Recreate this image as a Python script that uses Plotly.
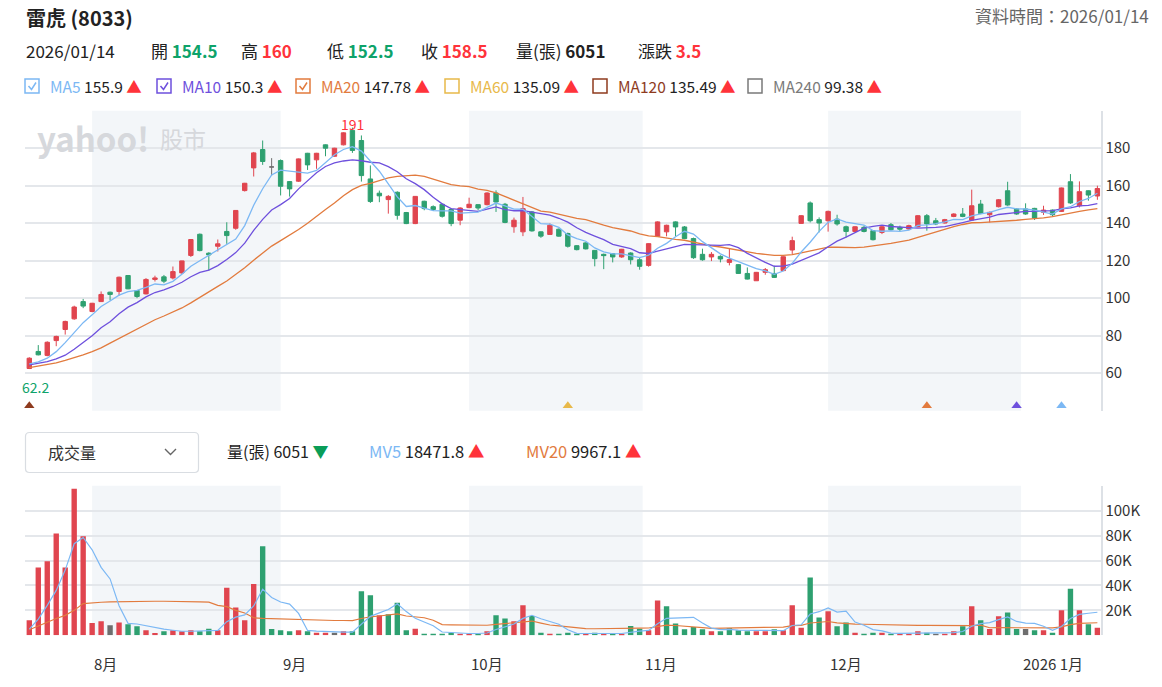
import numpy as np
import pandas as pd
import plotly.graph_objects as go

W, H = 1162, 687
FONT = "Noto Sans CJK TC, Noto Sans, sans-serif"

# ---------------- data ----------------
holidays = ["2025-09-29", "2025-10-06", "2025-10-10", "2025-10-24", "2025-12-25", "2026-01-01"]
dates = pd.bdate_range("2025-07-23", "2026-01-14")
dates = dates[~dates.isin(pd.to_datetime(holidays))]

opens = [62.5, 71.6, 69.5, 77.4, 83.3, 89.0, 98.2, 92.9, 98.2, 103.2,
         103.6, 112.1, 104.1, 102.3, 110.0, 111.4, 110.8, 113.5, 122.8, 134.1,
         124.0, 127.7, 135.6, 137.3, 157.4, 169.5, 179.3, 170.0, 173.4, 162.2,
         162.4, 177.3, 173.8, 181.8, 175.7, 181.8, 189.5, 184.1, 163.6, 156.0,
         152.6, 156.5, 145.7, 139.8, 151.7, 148.8, 150.1, 147.3, 141.6, 148.3,
         149.9, 149.9, 156.1, 150.1, 138.1, 135.4, 146.0, 135.4, 134.0, 136.8,
         134.5, 128.0, 129.5, 125.5, 123.4, 123.8, 122.0, 124.1, 120.5, 117.5,
         133.0, 135.4, 140.7, 138.0, 131.8, 123.4, 122.0, 122.3, 119.1, 117.9,
         113.2, 109.3, 113.8, 113.2, 114.7, 125.7, 139.9, 150.8, 141.9, 141.3,
         142.2, 138.1, 135.6, 137.8, 136.0, 135.1, 139.2, 137.8, 136.9, 138.1,
         144.0, 141.3, 140.1, 143.6, 144.9, 141.7, 150.2, 144.5, 148.8, 157.3,
         147.6, 147.6, 147.9, 145.8, 147.0, 146.3, 162.1, 149.3, 157.3, 154.5]
highs = [68.5, 75.0, 77.0, 80.0, 88.0, 96.0, 99.6, 97.5, 103.6, 103.5,
         111.5, 112.2, 104.3, 110.7, 112.0, 112.4, 116.9, 120.0, 131.5, 134.5,
         124.5, 131.3, 140.5, 147.0, 161.5, 178.0, 184.1, 174.7, 174.0, 162.5,
         174.5, 177.5, 177.5, 182.0, 180.2, 188.5, 191.0, 186.8, 170.8, 157.4,
         155.0, 157.0, 146.0, 154.5, 152.0, 149.5, 150.5, 148.0, 148.5, 153.6,
         150.0, 156.5, 157.5, 150.8, 143.0, 154.0, 146.5, 135.6, 139.9, 137.2,
         135.0, 128.3, 129.8, 125.7, 123.8, 124.0, 126.3, 124.5, 122.0, 129.3,
         141.0, 139.2, 141.0, 138.5, 132.3, 126.4, 124.6, 122.9, 126.4, 118.2,
         116.4, 114.0, 116.1, 117.3, 122.3, 132.8, 144.3, 151.6, 143.1, 146.7,
         144.5, 138.7, 138.4, 138.7, 136.3, 138.7, 140.1, 138.7, 139.2, 144.3,
         144.9, 142.8, 142.3, 145.3, 148.1, 157.9, 152.4, 146.2, 152.9, 162.1,
         148.0, 150.6, 148.2, 149.3, 147.3, 159.0, 166.2, 162.3, 157.5, 160.0]
lows = [62.2, 69.5, 69.0, 74.4, 80.6, 88.5, 94.7, 92.5, 98.0, 98.8,
        101.4, 104.8, 100.0, 102.0, 108.9, 108.0, 110.0, 113.0, 122.0, 125.0,
        114.8, 124.9, 129.0, 136.5, 156.9, 164.9, 171.1, 165.4, 154.8, 154.2,
        162.0, 168.4, 169.0, 175.7, 175.5, 181.5, 177.5, 162.2, 150.8, 151.2,
        145.1, 141.9, 139.5, 139.5, 146.9, 146.5, 143.0, 138.4, 138.9, 148.0,
        146.9, 149.5, 146.0, 140.0, 134.9, 133.1, 135.5, 132.2, 133.8, 132.8,
        127.0, 125.5, 126.0, 117.0, 115.5, 119.1, 121.5, 118.0, 115.2, 116.8,
        132.8, 133.0, 133.0, 131.5, 121.0, 120.0, 119.8, 119.1, 117.5, 113.0,
        110.0, 109.2, 112.5, 110.8, 114.5, 123.6, 139.7, 140.4, 135.1, 135.5,
        138.7, 132.4, 135.2, 135.1, 130.8, 134.2, 136.0, 135.6, 136.6, 137.8,
        136.0, 139.0, 139.8, 143.2, 143.2, 141.2, 144.8, 140.4, 148.4, 149.3,
        144.5, 144.5, 141.7, 144.4, 143.6, 146.0, 150.3, 148.4, 152.0, 152.5]
closes = [68.0, 69.8, 76.5, 79.6, 87.6, 95.3, 95.8, 97.3, 102.0, 102.0,
          111.2, 105.0, 100.9, 110.0, 110.8, 109.1, 114.2, 119.9, 131.3, 125.4,
          123.1, 129.0, 133.4, 146.8, 161.3, 177.5, 172.9, 170.0, 159.7, 158.3,
          174.3, 171.1, 177.3, 180.0, 180.0, 188.2, 178.8, 165.4, 151.6, 154.6,
          154.3, 144.2, 139.8, 154.3, 147.8, 147.3, 143.7, 139.8, 148.1, 150.1,
          148.1, 156.1, 151.3, 140.4, 141.6, 147.8, 135.9, 133.1, 138.9, 133.1,
          127.7, 125.9, 126.3, 121.1, 122.7, 122.0, 126.1, 120.5, 117.0, 129.1,
          140.7, 138.9, 138.0, 131.8, 121.6, 120.5, 123.4, 120.9, 120.6, 113.2,
          110.2, 113.8, 115.2, 111.1, 122.1, 130.7, 144.0, 141.3, 140.1, 146.3,
          139.6, 135.6, 138.1, 135.6, 131.2, 138.1, 136.5, 136.8, 138.7, 144.0,
          139.6, 139.6, 141.9, 144.9, 143.6, 149.3, 145.2, 145.8, 152.5, 149.7,
          144.9, 144.9, 142.8, 147.0, 144.5, 158.8, 150.8, 156.8, 155.0, 158.5]
# volume in 張
volumes = [12000, 54300, 59400, 81600, 54300, 117600, 79400, 9900, 11200, 8000,
           10200, 8800, 7200, 4000, 1900, 3200, 4000, 3200, 4000, 3200,
           5300, 4000, 38200, 22200, 12000, 41200, 71400, 5100, 4000, 3200,
           4000, 3200, 2100, 2100, 2100, 3200, 3200, 35300, 32100, 16000,
           16800, 26200, 4000, 5300, 1300, 1300, 1300, 2100, 1300, 1300,
           1300, 3200, 16000, 13400, 11200, 24100, 15500, 2100, 1300, 1300,
           2100, 1300, 1300, 2100, 1300, 1300, 1300, 7500, 5300, 4000,
           28000, 23300, 9400, 4800, 6700, 4800, 3200, 3200, 5900, 4000,
           3200, 3200, 3200, 4800, 4000, 24100, 6100, 46300, 14200, 19300,
           7200, 10200, 2100, 1300, 2100, 2100, 1300, 1300, 1300, 3200,
           2100, 1300, 1300, 3200, 7200, 23300, 12000, 5100, 15200, 18200,
           5100, 5100, 4000, 4000, 2100, 20100, 37400, 20100, 8800, 6051]

# moving-average values at the left edge (earlier history not shown)
ma5_head = [65.0, 66.0, 68.0, 71.5]
ma10_head = [64.4, 65.2, 66.2, 67.6, 69.6, 72.8, 76.3, 80.0, 84.2]
ma20_head = [63.0, 63.8, 64.6, 65.5, 66.8, 68.2, 69.8, 71.5, 73.5, 76.0,
             78.5, 81.0, 83.5, 86.0, 88.5, 90.5, 92.5, 94.8, 97.5]
mv5_head = [5000, 13000, 24000, 36000]
mv20_head = [4500, 7500, 10700, 13500, 16000, 20000, 25400, 26200, 26500, 26800,
             27000, 27100, 27200, 27300, 27300, 27300, 27300, 27200, 27100]

# MA-cross signal markers (index of day, which MA)
signal_idx = [0, 60, 100, 110, 115]
signal_ma = ["MA120", "MA60", "MA20", "MA10", "MA5"]

month_labels = ["8月", "9月", "10月", "11月", "12月", "2026 1月"]
month_starts = ["2025-08-01", "2025-09-01", "2025-10-01", "2025-11-01", "2025-12-01", "2026-01-01"]

header_vals = {"open": "154.5", "high": "160", "low": "152.5", "close": "158.5",
               "vol": "6051", "chg": "3.5", "date": "2026/01/14"}
ma_legend = [("MA5", "155.9", True), ("MA10", "150.3", True), ("MA20", "147.78", True),
             ("MA60", "135.09", False), ("MA120", "135.49", False), ("MA240", "99.38", False)]
vol_legend = [("MV5", "18471.8"), ("MV20", "9967.1")]

# ---------------- styles ----------------
RED = "#e0454f"
GREEN = "#2ea070"
GRAY = "#6e6e6e"
MA_COL = {"MA5": "#7cb8f4", "MA10": "#6e50dd", "MA20": "#e27b3e", "MA60": "#e8b94a",
          "MA120": "#8e3b1e", "MA240": "#7a7a7a"}
SHADE = "#f3f6f9"
GRID = "#e4e7eb"

n = len(closes)
idx = np.arange(n)
o = np.array(opens); h = np.array(highs); l = np.array(lows); c = np.array(closes)
v = np.array(volumes, dtype=float)


def rolling_with_head(vals, win, head):
    s = pd.Series(vals).rolling(win).mean().to_numpy()
    s[:len(head)] = head
    return s


ma5 = rolling_with_head(c, 5, ma5_head)
ma10 = rolling_with_head(c, 10, ma10_head)
ma20 = rolling_with_head(c, 20, ma20_head)
mv5 = rolling_with_head(v, 5, mv5_head)
mv20 = rolling_with_head(v, 20, mv20_head)

# volume colour: change vs previous close
chg = np.empty(n)
chg[0] = c[0] - o[0]
chg[1:] = c[1:] - c[:-1]
vcol = [RED if d > 0.05 else (GREEN if d < -0.05 else GRAY) for d in chg]

# month boundaries in index space (calendar interpolation)
ords = np.array([d.toordinal() for d in dates])
mpos = [float(np.interp(pd.Timestamp(m).toordinal(), ords, idx)) for m in month_starts]

XR = [-0.48, n - 1 + 0.37]

fig = go.Figure()

doji = o == c
fig.add_trace(go.Candlestick(
    x=idx[~doji], open=o[~doji], high=h[~doji], low=l[~doji], close=c[~doji],
    increasing=dict(line=dict(color=RED, width=1), fillcolor=RED),
    decreasing=dict(line=dict(color=GREEN, width=1), fillcolor=GREEN),
    whiskerwidth=0, xaxis="x", yaxis="y", hoverinfo="skip"))
fig.add_trace(go.Candlestick(
    x=idx[doji], open=o[doji], high=h[doji], low=l[doji], close=c[doji],
    increasing=dict(line=dict(color=GRAY, width=1), fillcolor=GRAY),
    decreasing=dict(line=dict(color=GRAY, width=1), fillcolor=GRAY),
    whiskerwidth=0, xaxis="x", yaxis="y", hoverinfo="skip"))

for name, arr in [("MA20", ma20), ("MA10", ma10), ("MA5", ma5)]:
    fig.add_trace(go.Scatter(x=idx, y=arr, mode="lines", line=dict(color=MA_COL[name], width=1.3),
                             xaxis="x", yaxis="y", hoverinfo="skip"))

fig.add_trace(go.Scatter(x=signal_idx, y=[42.6] * len(signal_idx), mode="markers",
                         marker=dict(symbol="triangle-up", size=9, color=[MA_COL[m] for m in signal_ma]),
                         xaxis="x", yaxis="y", hoverinfo="skip", cliponaxis=False))

fig.add_trace(go.Bar(x=idx, y=v, marker=dict(color=vcol, line=dict(width=0)), width=0.6,
                     xaxis="x2", yaxis="y2", hoverinfo="skip"))
fig.add_trace(go.Scatter(x=idx, y=mv20, mode="lines", line=dict(color=MA_COL["MA20"], width=1.2),
                         xaxis="x2", yaxis="y2", hoverinfo="skip"))
fig.add_trace(go.Scatter(x=idx, y=mv5, mode="lines", line=dict(color=MA_COL["MA5"], width=1.2),
                         xaxis="x2", yaxis="y2", hoverinfo="skip"))


def PX(x):
    return x / W


def PY(y):
    return 1 - y / H


PRICE_DOM = [PY(410.7), PY(110.7)]
VOL_DOM = [PY(635.3), PY(485.7)]
X_DOM = [PX(25), PX(1100.7)]

shapes = []
# shaded months (Aug, Oct, Dec)
for a, b in [(mpos[0], mpos[1]), (mpos[2], mpos[3]), (mpos[4], mpos[5])]:
    for xr, yr in [("x", "y domain"), ("x2", "y2 domain")]:
        shapes.append(dict(type="rect", xref=xr, yref=yr, x0=a, x1=b, y0=0, y1=1,
                           fillcolor=SHADE, line=dict(width=0), layer="below"))

annotations = []


def ann(text, x, y, size=15, color="#222", xanchor="left", **kw):
    annotations.append(dict(text=text, x=PX(x), y=PY(y), xref="paper", yref="paper",
                            xanchor=xanchor, yanchor="middle", showarrow=False,
                            font=dict(size=size, color=color, family=FONT), **kw))


# title rows
ann("<b>雷虎 (8033)</b>", 24, 17, size=20)
ann("資料時間：" + header_vals["date"], 1151, 15, size=17, color="#666", xanchor="right")
ann(header_vals["date"], 24, 50, size=17)
ann(f"開 <b><span style='color:#0ea36a'>{header_vals['open']}</span></b>", 149, 50, size=17)
ann(f"高 <b><span style='color:#ff333a'>{header_vals['high']}</span></b>", 239, 50, size=17)
ann(f"低 <b><span style='color:#0ea36a'>{header_vals['low']}</span></b>", 325, 50, size=17)
ann(f"收 <b><span style='color:#ff333a'>{header_vals['close']}</span></b>", 419, 50, size=17)
ann(f"量(張) <b>{header_vals['vol']}</b>", 514, 50, size=17)
ann(f"漲跌 <b><span style='color:#ff333a'>{header_vals['chg']}</span></b>", 636, 50, size=17)

box_x = [25, 157, 296, 445, 593, 748]
for (name, val, checked), bx in zip(ma_legend, box_x):
    col = MA_COL[name]
    shapes.append(dict(type="rect", xref="paper", yref="paper", x0=PX(bx), x1=PX(bx + 14),
                       y0=PY(93), y1=PY(79), line=dict(color=col, width=1.5)))
    if checked:
        shapes.append(dict(type="path", xref="paper", yref="paper",
                           path=f"M {PX(bx+3.5)} {PY(86)} L {PX(bx+6.5)} {PY(89.5)} L {PX(bx+11)} {PY(82.5)}",
                           line=dict(color=col, width=1.5)))
    ann(f"<span style='color:{col}'>{name}</span> {val} <span style='color:#ff333a'>▲</span>",
        bx + 23, 86, size=15.5)


# volume header
def rrect(x0, y0, x1, y1, r):
    pts = [("M", x0 + r, y0), ("L", x1 - r, y0), ("Q", x1, y0, x1, y0 + r), ("L", x1, y1 - r),
           ("Q", x1, y1, x1 - r, y1), ("L", x0 + r, y1), ("Q", x0, y1, x0, y1 - r),
           ("L", x0, y0 + r), ("Q", x0, y0, x0 + r, y0)]
    s = []
    for p in pts:
        cmd = p[0]
        coords = p[1:]
        cs = []
        for i in range(0, len(coords), 2):
            cs.append(f"{PX(coords[i])},{PY(coords[i+1])}")
        s.append(cmd + " " + " ".join(cs))
    return " ".join(s) + " Z"


shapes.append(dict(type="path", xref="paper", yref="paper", path=rrect(25.5, 432.5, 198.5, 472.5, 4),
                   line=dict(color="#d9dde2", width=1.2), fillcolor="white"))
shapes.append(dict(type="path", xref="paper", yref="paper",
                   path=f"M {PX(165)} {PY(449)} L {PX(170.5)} {PY(454.5)} L {PX(176)} {PY(449)}",
                   line=dict(color="#666", width=1.4)))
ann("成交量", 46, 452, size=16, color="#333")
ann(f"量(張) {header_vals['vol']} <span style='color:#0a9d58'>▼</span>", 225, 451, size=16)
ann(f"<span style='color:{MA_COL['MA5']}'>{vol_legend[0][0]}</span> {vol_legend[0][1]} "
    f"<span style='color:#ff333a'>▲</span>", 367, 451, size=16.5)
ann(f"<span style='color:{MA_COL['MA20']}'>{vol_legend[1][0]}</span> {vol_legend[1][1]} "
    f"<span style='color:#ff333a'>▲</span>", 524, 451, size=16.5)

# watermark
ann("<b>yahoo!</b>", 35, 138, size=33, color="#d6d8dc")
ann("股市", 158, 138, size=23, color="#d6d8dc")

# high / low labels
imax = int(np.argmax(h)); imin = int(np.argmin(l))
annotations.append(dict(text=f"{h[imax]:g}", x=imax, y=h[imax], xref="x", yref="y", showarrow=False,
                        yanchor="bottom", yshift=-8, font=dict(size=14, color="#ff333a", family=FONT)))
annotations.append(dict(text=f"{l[imin]:g}", x=imin, y=l[imin], xref="x", yref="y", showarrow=False,
                        xanchor="left", xshift=-9, yanchor="top", yshift=-6,
                        font=dict(size=14, color="#0ea36a", family=FONT)))

# month labels
for lab, pos in zip(month_labels, mpos):
    annotations.append(dict(text=lab, x=pos, y=PY(663), xref="x2", yref="paper", xanchor="left",
                            yanchor="middle", showarrow=False, font=dict(size=15, color="#333", family=FONT)))

price_ticks = list(range(40, 201, 20))
vol_ticks = list(range(0, 120001, 20000))

fig.update_layout(
    width=W, height=H, margin=dict(l=0, r=0, t=0, b=0),
    paper_bgcolor="white", plot_bgcolor="white", showlegend=False, hovermode=False,
    font=dict(family=FONT, color="#333"),
    xaxis=dict(domain=X_DOM, range=XR, showgrid=False, zeroline=False, showticklabels=False,
               rangeslider=dict(visible=False), anchor="y", fixedrange=True),
    xaxis2=dict(domain=X_DOM, range=XR, showgrid=False, zeroline=False, showticklabels=False,
                anchor="y2", matches="x"),
    yaxis=dict(domain=PRICE_DOM, range=[40, 200], side="right", anchor="x",
               tickvals=price_ticks,
               ticktext=["" if t in (40, 200) else str(t) for t in price_ticks],
               showgrid=True, gridcolor=GRID, gridwidth=1.5, zeroline=False,
               showline=True, linecolor="#dde1e6", linewidth=1.5,
               ticks="", tickfont=dict(size=15, color="#333", family=FONT)),
    yaxis2=dict(domain=VOL_DOM, range=[0, 120000], side="right", anchor="x2",
                tickvals=vol_ticks,
                ticktext=["" if t in (0, 120000) else f"{t // 1000}K" for t in vol_ticks],
                showgrid=True, gridcolor=GRID, gridwidth=1.5, zeroline=False,
                showline=True, linecolor="#dde1e6", linewidth=1.5,
                ticks="", tickfont=dict(size=15, color="#333", family=FONT)),
    shapes=shapes, annotations=annotations,
    boxgap=0.3,
)

fig.write_html("out.html")
